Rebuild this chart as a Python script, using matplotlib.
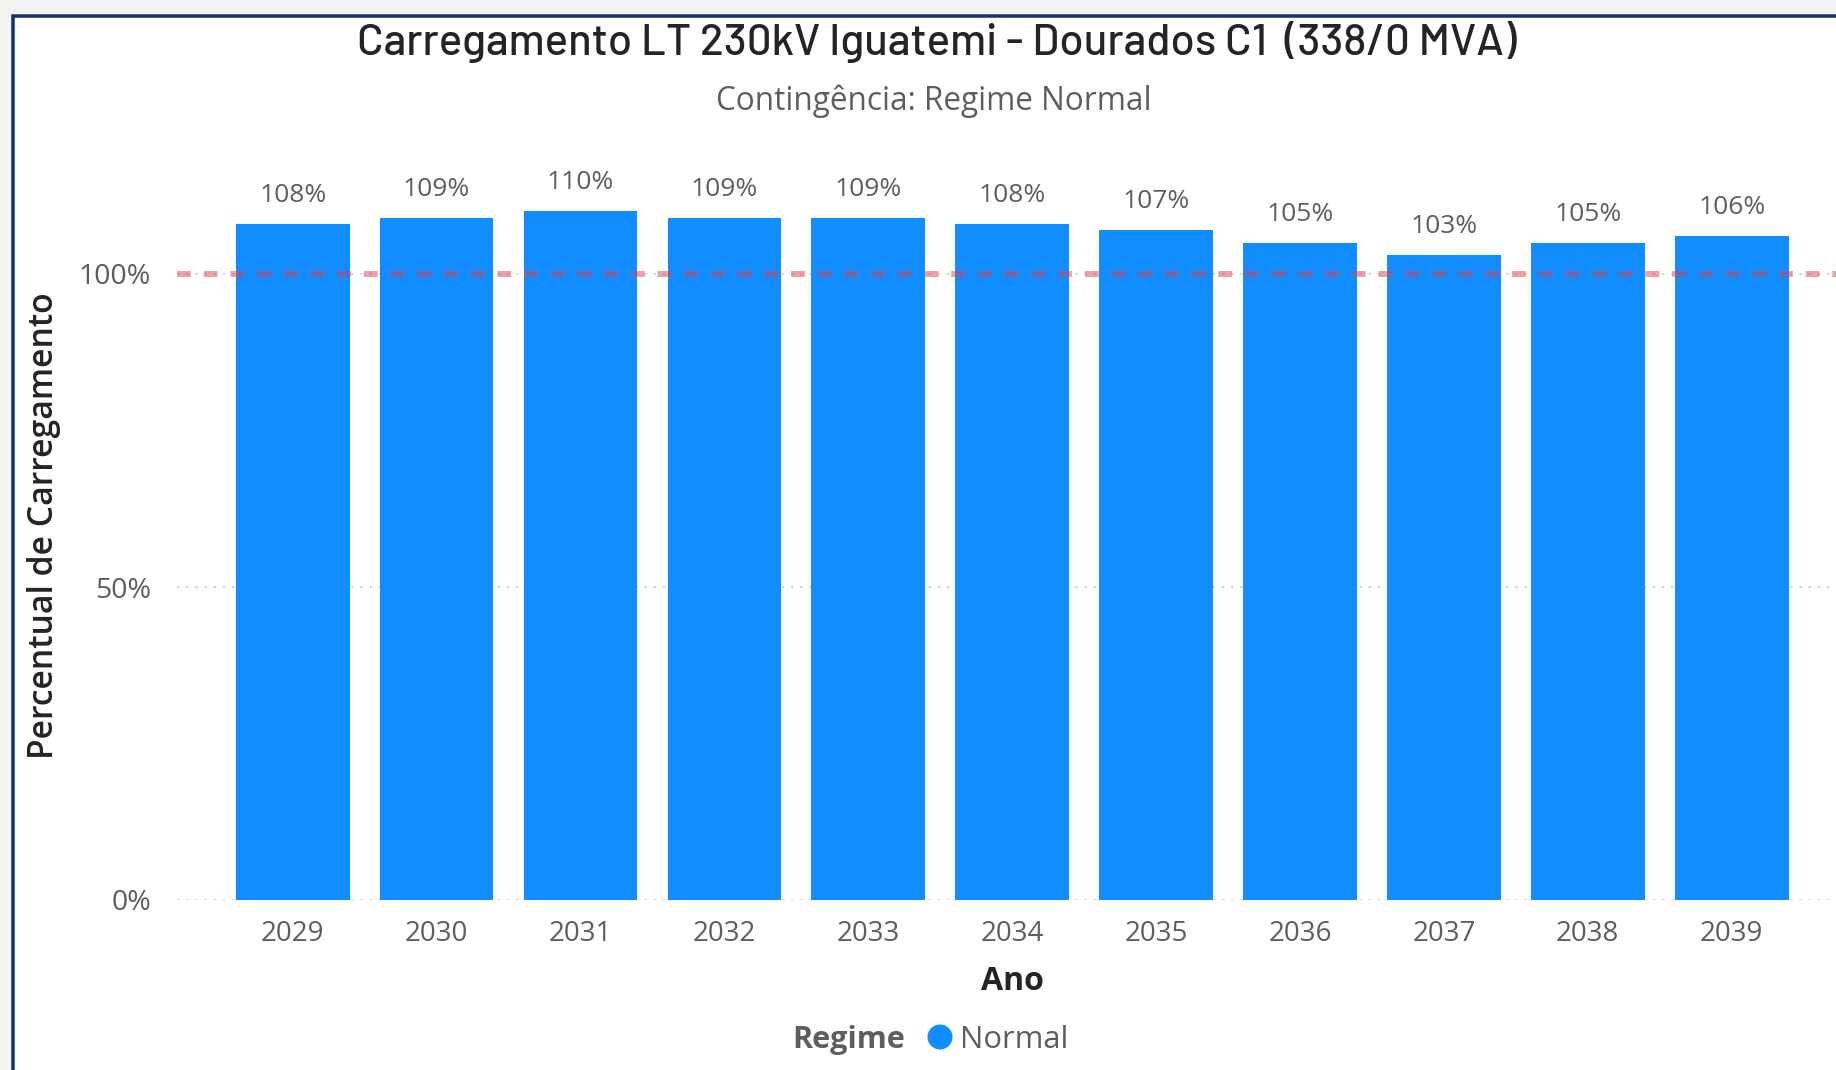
import matplotlib
matplotlib.use("Agg")
import matplotlib.pyplot as plt
from matplotlib.patches import Rectangle, Ellipse
from matplotlib import font_manager

# ---------------------------------------------------------------
years = ["2029", "2030", "2031", "2032", "2033", "2034",
         "2035", "2036", "2037", "2038", "2039"]
loading_pct = [108, 109, 110, 109, 109, 108, 107, 105, 103, 105, 106]
y_ticks = [0, 50, 100]
y_tick_labels = ["0%", "50%", "100%"]
limit_pct = 100

TITLE = "Carregamento LT 230kV Iguatemi - Dourados C1  (338/0 MVA)"
SUBTITLE = "Contingência: Regime Normal"
X_LABEL = "Ano"
Y_LABEL = "Percentual de Carregamento"
LEGEND_TITLE = "Regime"
SERIES_NAME = "Normal"

BAR_COLOR = "#118DFF"
LIMIT_COLOR = "#D64550"
TEXT_GRAY = "#605E5C"
TEXT_DARK = "#252423"
FRAME_COLOR = "#15306A"
# ---------------------------------------------------------------

installed = {f.name for f in font_manager.fontManager.ttflist}


def pick_font(*names):
    for n in names:
        if n in installed:
            return n
    return "DejaVu Sans"


TITLE_FONT = pick_font("Barlow", "Barlow Semi Condensed", "Roboto")
UI_FONT = pick_font("Open Sans", "Noto Sans")

W, H = 1836, 1070
DPI = 100
PT = 72 / DPI  # points per pixel


def fx(x):
    return x / W


def fy(y):
    # pixel row measured from the top -> figure fraction
    return 1 - y / H


fig = plt.figure(figsize=(W / DPI, H / DPI), dpi=DPI, facecolor="#F3F3F3")

# white card with navy border, kept behind the axes
fig.patches.append(Rectangle((fx(13), -0.05), 1.2, fy(16) + 0.05,
                             transform=fig.transFigure, facecolor="white",
                             edgecolor=FRAME_COLOR, linewidth=3.5 * PT, zorder=-5))

# plot area: 0% at row 900, 100% at row 274
y_top = 125
px_per_pct = (900 - 274) / 100
ax_left = 177
ax_top_px = 900 - px_per_pct * y_top
ax = fig.add_axes([fx(ax_left), fy(900), 1 - fx(ax_left), (900 - ax_top_px) / H])
ax.set_facecolor("none")
ax.set_zorder(1)

x = list(range(len(years)))
slot = 143.9  # pixels per category, first category centred at column 292.7
ax.set_xlim((ax_left - 292.7) / slot, (W - 292.7) / slot)
ax.set_ylim(0, y_top)

for v in y_ticks:
    ax.axhline(v, color="#C8C6C4", linewidth=1.1, linestyle=(0, (1.5, 4.5)), zorder=0)

ax.bar(x, loading_pct, width=0.79, color=BAR_COLOR, zorder=2)

ax.axhline(limit_pct, color=LIMIT_COLOR, alpha=0.5, linewidth=6 * PT,
           linestyle=(0, (2.3, 2.15)), zorder=3)

for xi, v in zip(x, loading_pct):
    ax.annotate(f"{v}%", (xi, v), xytext=(0, 22 * PT), textcoords="offset points",
                ha="center", va="baseline", fontsize=19, color=TEXT_GRAY,
                family=UI_FONT)

for s in ax.spines.values():
    s.set_visible(False)
ax.tick_params(length=0)
ax.set_xticks(x)
ax.set_xticklabels(years, fontsize=20, color=TEXT_GRAY, family=UI_FONT)
ax.tick_params(axis="x", pad=14.5)
ax.set_yticks(y_ticks)
ax.set_yticklabels(y_tick_labels, fontsize=20.5, color=TEXT_GRAY, family=UI_FONT)
ax.tick_params(axis="y", pad=26 * PT)

# titles
fig.text(fx(937), fy(55), TITLE, ha="center", va="baseline", fontsize=31.5,
         color=TEXT_DARK, family=TITLE_FONT, fontweight="medium")
fig.text(fx(934), fy(110), SUBTITLE, ha="center", va="baseline", fontsize=22.7,
         color=TEXT_GRAY, family=UI_FONT)

# axis titles
fig.text(fx(1012), fy(990), X_LABEL, ha="center", va="baseline", fontsize=23,
         color=TEXT_DARK, family=UI_FONT, fontweight="bold")
fig.text(fx(44), fy(526), Y_LABEL, ha="center", va="center", rotation=90,
         fontsize=24.3, color=TEXT_DARK, family=UI_FONT, fontweight="semibold")

# legend
fig.text(fx(905), fy(1048), LEGEND_TITLE, ha="right", va="baseline", fontsize=22,
         color=TEXT_GRAY, family=UI_FONT, fontweight="bold")
fig.patches.append(Ellipse((fx(940), fy(1037)), 25 / W, 25 / H, transform=fig.transFigure,
                           facecolor=BAR_COLOR, edgecolor="none"))
fig.text(fx(960), fy(1048), SERIES_NAME, ha="left", va="baseline", fontsize=22.3,
         color=TEXT_GRAY, family=UI_FONT)

fig.savefig("out.png", dpi=DPI, facecolor=fig.get_facecolor())
